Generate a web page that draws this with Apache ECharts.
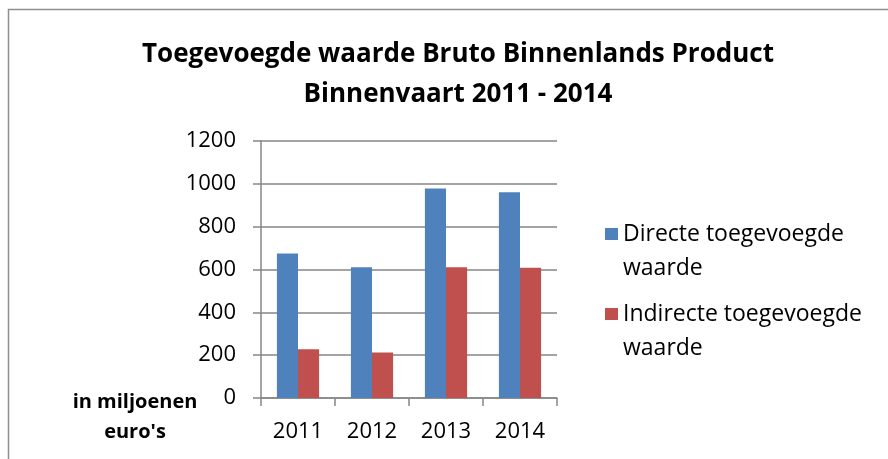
<!DOCTYPE html>
<html>
<head>
<meta charset="utf-8">
<script src="https://cdn.jsdelivr.net/npm/echarts@6/dist/echarts.min.js"></script>
<style>
  html, body { margin: 0; padding: 0; background: #fff; }
  #main { width: 888px; height: 459px; }
</style>
</head>
<body>
<div id="main"></div>
<script>
// jaren en waarden (in miljoenen euro's)
var years = ['2011', '2012', '2013', '2014'];
var directe = [675, 611, 978, 961];
var indirecte = [228, 212, 611, 608];
var seriesNames = ['Directe toegevoegde\nwaarde', 'Indirecte toegevoegde\nwaarde'];

var myChart = echarts.init(document.getElementById('main'));
var font = 'Open Sans';
// square at the top of a tall box so it lines up with the first text line
var legendIcon = 'path://M0,0L13,0L13,12L0,12Z M0,46L0.01,46L0.01,46.01Z';
var option = {
    animation: false,
    backgroundColor: '#fff',
    title: {
        text: 'Toegevoegde waarde Bruto Binnenlands Product\nBinnenvaart 2011 - 2014',
        left: 453,
        textAlign: 'center',
        top: 30,
        textStyle: {
            fontFamily: font,
            fontSize: 26,
            fontWeight: 'bold',
            color: '#000',
            lineHeight: 40
        }
    },
    legend: {
        orient: 'vertical',
        left: 600,
        top: 212,
        itemWidth: 13,
        itemHeight: 46,
        itemGap: 12,
        icon: legendIcon,
        data: seriesNames,
        textStyle: {
            fontFamily: font,
            fontSize: 23,
            color: '#000',
            lineHeight: 34
        }
    },
    grid: {
        left: 261,
        right: 331,
        top: 141,
        bottom: 61
    },
    xAxis: {
        type: 'category',
        data: years,
        axisLine: { lineStyle: { color: '#868686', width: 1.5 } },
        axisTick: { show: true, length: 8, lineStyle: { color: '#868686', width: 1.5 } },
        axisLabel: {
            fontFamily: font,
            fontSize: 22,
            color: '#000',
            margin: 23
        }
    },
    yAxis: {
        type: 'value',
        min: 0,
        max: 1200,
        interval: 200,
        axisLine: { show: true, lineStyle: { color: '#868686', width: 1.5 } },
        axisTick: { show: true, length: 8, lineStyle: { color: '#868686', width: 1.5 } },
        axisLabel: {
            fontFamily: font,
            fontSize: 22,
            color: '#000',
            margin: 25,
            formatter: function (v) { return String(v); }
        },
        splitLine: { lineStyle: { color: '#868686', width: 1.5 } }
    },
    graphic: [
        {
            type: 'rect',
            shape: { x: 8.5, y: 9.5, width: 900, height: 500 },
            style: { fill: 'none', stroke: '#8e8e8e', lineWidth: 1.5 }
        },
        {
            type: 'text',
            x: 135,
            y: 417,
            style: {
                text: "in miljoenen\neuro's",
                fontFamily: font,
                fontSize: 20,
                fontWeight: 'bold',
                fill: '#000',
                align: 'center',
                verticalAlign: 'middle',
                lineHeight: 30
            }
        }
    ],
    series: [
        {
            name: seriesNames[0],
            type: 'bar',
            data: directe,
            barGap: '0%',
            barCategoryGap: '43%',
            itemStyle: { color: '#4f81bd' }
        },
        {
            name: seriesNames[1],
            type: 'bar',
            data: indirecte,
            itemStyle: { color: '#c0504d' }
        }
    ]
};
myChart.setOption(option);
</script>
</body>
</html>
